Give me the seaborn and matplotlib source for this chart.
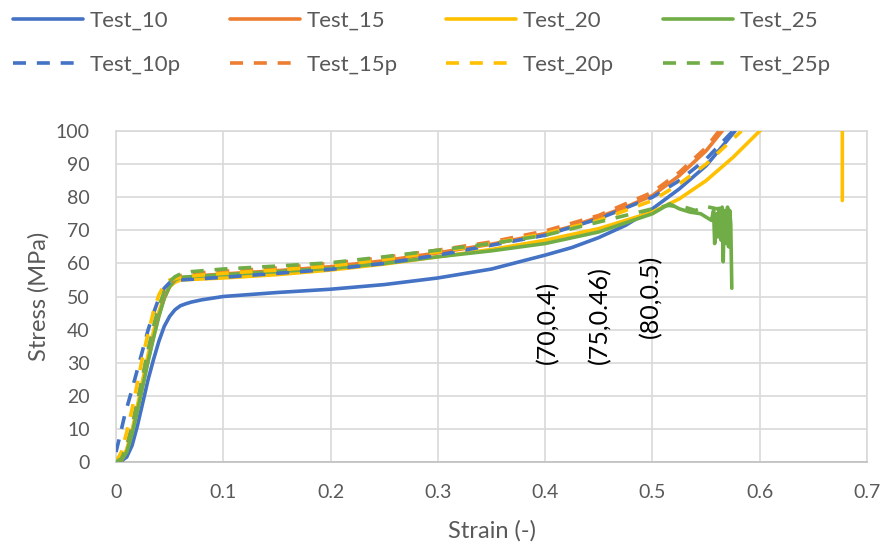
import matplotlib
matplotlib.use("Agg")
import matplotlib.pyplot as plt
from matplotlib.lines import Line2D
import pandas as pd
import seaborn as sns

# ---- stress-strain readings for each test ----
strain_10 = [0, 0.005, 0.01, 0.015, 0.02, 0.025, 0.03, 0.035, 0.04, 0.045, 0.05, 0.055, 0.06, 0.065, 0.07,
             0.08, 0.1, 0.125, 0.15, 0.2, 0.25, 0.3, 0.35, 0.4, 0.425, 0.45, 0.475, 0.5, 0.525, 0.55, 0.577]
stress_10 = [0, 0.3, 1.5, 5, 11, 18, 25, 31, 36.5, 41, 44, 46, 47.2, 47.8, 48.3,
             49, 50, 50.6, 51.2, 52.2, 53.6, 55.6, 58.3, 62.5, 64.8, 67.8, 71.5, 76.5, 82.5, 89.5, 100]

strain_15 = [0, 0.005, 0.01, 0.015, 0.02, 0.025, 0.03, 0.035, 0.04, 0.045, 0.05, 0.055, 0.06, 0.07, 0.08,
             0.1, 0.15, 0.2, 0.25, 0.3, 0.35, 0.4, 0.425, 0.45, 0.475, 0.5, 0.525, 0.55, 0.565]
stress_15 = [0, 0.5, 3.5, 9, 16, 23.5, 31, 38, 44.5, 49.5, 53, 54.8, 55.6, 56, 56.3,
             56.8, 57.8, 59, 60.8, 63.2, 65.8, 69, 71.2, 74, 77, 80.5, 86.5, 94, 100]

strain_20 = [0, 0.005, 0.01, 0.015, 0.02, 0.025, 0.03, 0.035, 0.04, 0.045, 0.05, 0.055, 0.06, 0.08,
             0.1, 0.15, 0.2, 0.25, 0.3, 0.35, 0.4, 0.45, 0.5, 0.525, 0.55, 0.575, 0.6, 0.63, 0.66, 0.677, 0.677]
stress_20 = [0, 0.6, 3.8, 9.5, 17, 25, 32.5, 39.5, 45.5, 50, 53, 54.3, 55, 55.3,
             55.6, 56.6, 58, 59.8, 62, 64.2, 67, 70.5, 75.5, 79.5, 85, 92, 100, 110, 121, 128, 79]

strain_25 = [0, 0.005, 0.01, 0.015, 0.02, 0.025, 0.03, 0.035, 0.04, 0.045, 0.05, 0.055, 0.06, 0.07, 0.08,
             0.1, 0.15, 0.2, 0.25, 0.3, 0.35, 0.4, 0.45, 0.5, 0.516, 0.525, 0.535, 0.545, 0.555,
             0.557, 0.558, 0.56, 0.561, 0.562, 0.564, 0.565, 0.566, 0.567, 0.569, 0.57, 0.571, 0.572, 0.573, 0.574]
stress_25 = [0, 0.5, 3, 8.5, 15.5, 23, 30.5, 37.5, 44, 49.5, 53, 55, 55.8, 56, 56.2,
             56.6, 57.5, 58.5, 60, 62, 63.8, 66, 69.5, 75, 78, 76.5, 75.5, 75, 73,
             76, 66, 75, 68, 76.5, 67, 77, 60.5, 76, 66, 77, 65, 76, 72, 52.5]

strain_10p = [0, 0.003, 0.008, 0.015, 0.02, 0.025, 0.03, 0.035, 0.04, 0.045, 0.05, 0.06, 0.08,
              0.1, 0.15, 0.2, 0.25, 0.3, 0.35, 0.4, 0.45, 0.5, 0.525, 0.55, 0.575]
stress_10p = [3, 7, 14, 22, 28, 34, 40, 45, 49.5, 52.5, 54.2, 55, 55.4,
              55.8, 57, 58.2, 60, 62.5, 65.5, 68.5, 73.5, 80, 85, 91.5, 100]

strain_15p = [0, 0.005, 0.01, 0.015, 0.02, 0.025, 0.03, 0.035, 0.04, 0.045, 0.05, 0.055, 0.06, 0.07, 0.08,
              0.1, 0.15, 0.2, 0.25, 0.3, 0.35, 0.4, 0.45, 0.5, 0.525, 0.55, 0.562]
stress_15p = [0, 1, 5, 11, 18.5, 26, 33.5, 40.5, 46.5, 51, 54, 55.5, 56.3, 56.8, 57.2,
              57.6, 58.6, 60, 61.8, 64, 66.5, 69.8, 74.5, 81.5, 87.5, 95, 100]

strain_20p = [0, 0.005, 0.01, 0.015, 0.02, 0.025, 0.03, 0.035, 0.04, 0.045, 0.05, 0.06, 0.08,
              0.1, 0.15, 0.2, 0.25, 0.3, 0.35, 0.4, 0.45, 0.5, 0.525, 0.55, 0.583]
stress_20p = [0, 3, 9, 16, 24, 32, 39, 45.5, 50.5, 53.5, 55, 55.8, 56.5,
              57, 58, 59.2, 61.2, 63.5, 66, 69, 73, 79, 84, 90, 100]

strain_25p = [0, 0.005, 0.01, 0.015, 0.02, 0.025, 0.03, 0.035, 0.04, 0.045, 0.05, 0.055, 0.06, 0.07,
              0.1, 0.15, 0.2, 0.25, 0.3, 0.35, 0.4, 0.45, 0.5, 0.515, 0.53, 0.54, 0.55, 0.56, 0.57]
stress_25p = [0, 1, 4.5, 10.5, 18, 26, 34, 41, 47, 51.5, 54.5, 56, 56.8, 57.5,
              58.3, 59.2, 60.2, 62, 64, 66, 68.5, 72.5, 76.5, 77.5, 77, 76, 77.2, 76.5, 77]

series = [
    ("Test_10", strain_10, stress_10),
    ("Test_15", strain_15, stress_15),
    ("Test_20", strain_20, stress_20),
    ("Test_25", strain_25, stress_25),
    ("Test_10p", strain_10p, stress_10p),
    ("Test_15p", strain_15p, stress_15p),
    ("Test_20p", strain_20p, stress_20p),
    ("Test_25p", strain_25p, stress_25p),
]

# labelled points: (stress, strain) and where each label sits
notes = [(70, 0.4), (75, 0.46), (80, 0.5)]
note_pos = [(0.402, 29.5), (0.451, 29.5), (0.498, 37.5)]

xticks = [0, 0.1, 0.2, 0.3, 0.4, 0.5, 0.6, 0.7]
yticks = list(range(0, 101, 10))

palette = {"10": "#4472C4", "15": "#ED7D31", "20": "#FFC000", "25": "#70AD47"}

frames = []
for name, sx, sy in series:
    frames.append(pd.DataFrame({
        "strain": sx, "stress": sy, "test": name,
        "group": name.split("_")[1].rstrip("p"),
        "kind": "pred" if name.endswith("p") else "exp",
    }))
df = pd.concat(frames, ignore_index=True)

sns.set_theme(style="white")
plt.rcParams["font.family"] = ["Lato", "DejaVu Sans"]

W, H = 886, 546
fig = plt.figure(figsize=(W / 100, H / 100), dpi=100)
ax = fig.add_axes([116 / W, 1 - 462 / H, (867 - 116) / W, (462 - 131) / H])

lw = 2.6
dash = (3.6, 3.0)
for name, sx, sy in series:
    sub = df[df["test"] == name]
    g = sub["group"].iloc[0]
    sns.lineplot(data=sub, x="strain", y="stress", ax=ax, sort=False, estimator=None,
                 color=palette[g], linewidth=lw, legend=False, zorder=3)
    if sub["kind"].iloc[0] == "pred":
        ax.lines[-1].set_dashes(dash)

ax.set_xlim(0, 0.7)
ax.set_ylim(0, 100)
ax.set_xticks(xticks)
ax.set_xticklabels(["0" if t == 0 else f"{t:g}" for t in xticks])
ax.set_yticks(yticks)
ax.grid(True, color="#D9D9D9", linewidth=1.2)
ax.set_axisbelow(True)
for side, sp in ax.spines.items():
    sp.set_color("#D9D9D9")
    sp.set_linewidth(1.2)
ax.spines["bottom"].set_color("#BFBFBF")
ax.tick_params(axis="both", length=0, labelsize=14, labelcolor="#595959")
ax.tick_params(axis="x", pad=16)
ax.tick_params(axis="y", pad=19)
ax.set_xlabel("Strain (-)", fontsize=17, color="#595959")
ax.set_ylabel("Stress (MPa)", fontsize=17, color="#595959")
ax.xaxis.set_label_coords(0.5, (462 - 520) / (462 - 131))
ax.yaxis.set_label_coords((50 - 116) / (867 - 116), 0.5)

for (sv, ev), (px, py) in zip(notes, note_pos):
    ax.text(px, py, f"({sv:g},{ev:g})", rotation=90, ha="center", va="bottom",
            fontsize=18, color="black", zorder=5)

handles = []
labels = []
for name, sx, sy in series[:4]:
    g = name.split("_")[1]
    for suffix in ("", "p"):
        h = Line2D([], [], color=palette[g], linewidth=lw)
        if suffix:
            h.set_dashes(dash)
        handles.append(h)
        labels.append(name + suffix)

leg = fig.legend(handles, labels, ncol=4, loc="upper left", bbox_to_anchor=(13 / W, 1 - 11 / H),
                 frameon=False, fontsize=16, handlelength=3.15, handletextpad=0.3,
                 columnspacing=2.2, labelspacing=1.07, borderaxespad=0, borderpad=0)
for t in leg.get_texts():
    t.set_color("#595959")

fig.savefig("out.png", dpi=100)
